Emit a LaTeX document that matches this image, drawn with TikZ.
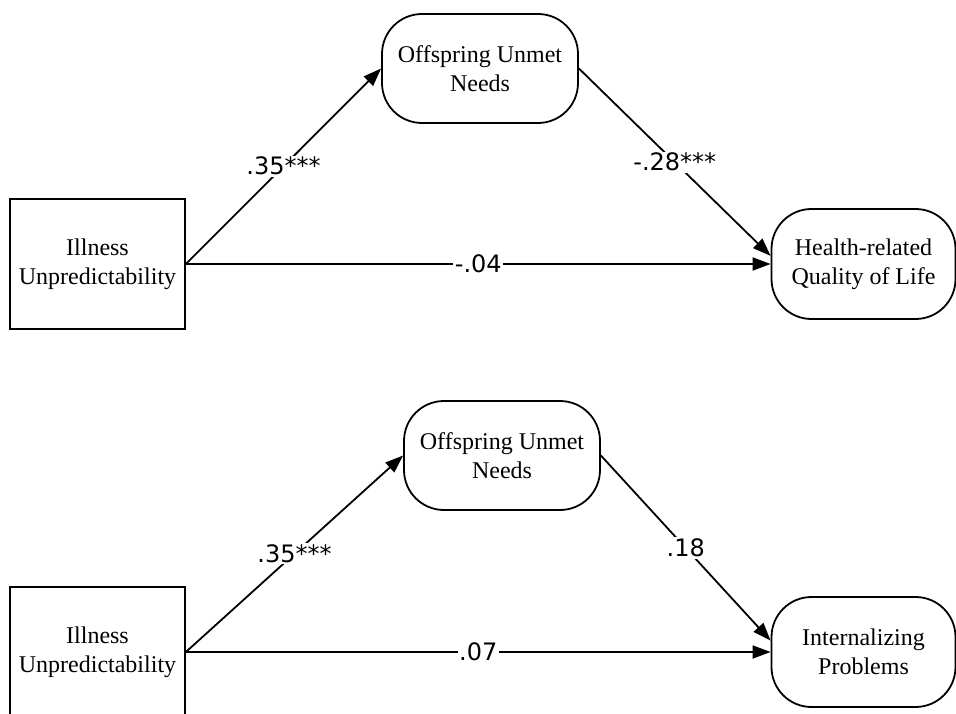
\documentclass[tikz,border=0pt]{standalone}
\usepackage{fontspec}
\setmainfont{Liberation Serif}
\newfontfamily\coeffont{DejaVu Sans}
\usetikzlibrary{arrows.meta, positioning}

\begin{document}
\begin{tikzpicture}[x=1pt, y=-1pt, line width=1.8pt,
  predictor/.style={draw, minimum width=175pt, minimum height=130pt, align=center,
    font=\fontsize{24}{29}\selectfont},
  mediator/.style={draw, rounded corners=40pt, minimum width=196pt, minimum height=109pt,
    align=center, font=\fontsize{24}{29}\selectfont},
  outcome/.style={draw, rounded corners=40pt, minimum width=184pt, minimum height=110pt,
    align=center, font=\fontsize{24}{29}\selectfont},
  effect/.style={-{Triangle[length=18pt,width=13pt]}},
  coef/.style={fill=white, inner sep=1.5pt, font=\coeffont\fontsize{24}{28}\selectfont}]
\useasboundingbox (0,0) rectangle (956,714);

% Lebensqualitaet
\node[predictor] (pred1) at (97.5,264) {Illness\\Unpredictability};
\node[mediator] (med1) at (480,68.5) {Offspring Unmet\\Needs};
\node[outcome] (out1) at (863.5,264) {Health-related\\Quality of Life};
\draw[effect] (pred1.east) -- node[coef] {.35***} (med1.west);
\draw[effect] (med1.east) -- node[coef] {-.28***} (out1.175);
\draw[effect] (pred1.east) -- node[coef] {-.04} (out1.west);

% Internalisierung
\node[predictor] (pred2) at (97.5,652) {Illness\\Unpredictability};
\node[mediator] (med2) at (502,455.5) {Offspring Unmet\\Needs};
\node[outcome] (out2) at (863.5,652) {Internalizing\\Problems};
\draw[effect] (pred2.east) -- node[coef] {.35***} (med2.west);
\draw[effect] (med2.east) -- node[coef] {.18} (out2.173);
\draw[effect] (pred2.east) -- node[coef] {.07} (out2.west);
\end{tikzpicture}
\end{document}
